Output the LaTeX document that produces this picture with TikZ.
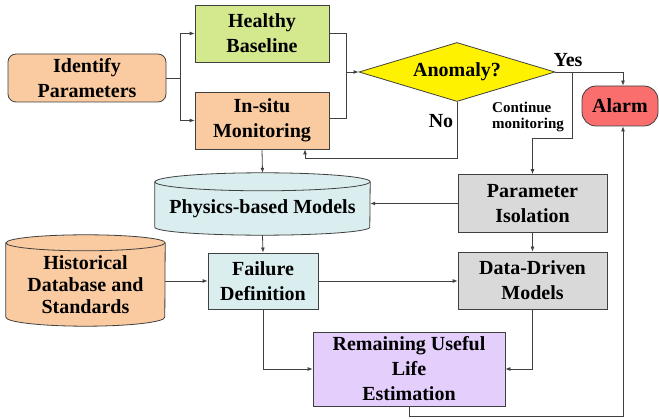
\documentclass[tikz,border=0pt]{standalone}
\usepackage{fontspec}
\setmainfont{Liberation Serif}
\usetikzlibrary{arrows.meta,positioning,shapes.geometric,backgrounds}
\definecolor{peach}{RGB}{250,202,160}
\definecolor{lightgreen}{RGB}{212,232,142}
\definecolor{alarmred}{RGB}{250,110,110}
\definecolor{paleblue}{RGB}{218,238,240}
\definecolor{lightgray}{RGB}{217,217,217}
\definecolor{lavender}{RGB}{228,206,252}

\begin{document}
\begin{tikzpicture}[x=1pt,y=-1pt,font=\bfseries\fontsize{20}{25}\selectfont,
    >={Latex[length=5pt,width=4pt]},
    box/.style={draw=black!75, line width=0.8pt, align=center, inner sep=1pt},
    drum/.style={align=center, inner sep=0pt},
    outline/.style={draw=black!75, line width=0.8pt},
    link/.style={line width=0.8pt, draw=black!75}]
            \useasboundingbox (0,0) rectangle (659,419);

            % Start
            \node[box, rounded corners=8pt, fill=peach, minimum width=158, minimum height=48] (identify) at (87,78) {Identify\\Parameters};

            % Baseline and monitoring
            \node[box, fill=lightgreen, minimum width=134, minimum height=57] (healthy) at (262,33.5) {Healthy\\Baseline};
            \node[box, fill=peach, minimum width=134, minimum height=57] (insitu) at (262,120.5) {In-situ\\Monitoring};

            % Decision
            \node[box, diamond, aspect=3.2, inner sep=0pt, fill=yellow, minimum width=196, minimum height=59] (anomaly) at (457,72) {Anomaly?};
            \node[box, rounded corners=14pt, fill=alarmred, minimum width=76, minimum height=40] (alarm) at (620,106) {Alarm};

            % Models
            \node[drum, minimum width=215, minimum height=53] (physics) at (262.5,208.5) {Physics-based Models};
            \node[box, fill=lightgray, minimum width=149, minimum height=58] (param) at (532.5,203.5) {Parameter\\Isolation};
            \node[box, fill=lightgray, minimum width=149, minimum height=57] (datadriven) at (532.5,280.5) {Data-Driven\\Models};
            \node[box, fill=paleblue, minimum width=110, minimum height=56] (failure) at (263,281) {Failure\\Definition};
            \node[drum, font=\bfseries\fontsize{20}{22}\selectfont, minimum width=159, minimum height=83] (historical) at (85.5,284.5) {Historical\\Database and\\Standards};

            % Estimation
            \node[box, inner sep=0pt, fill=lavender, minimum width=192, minimum height=74] (rul) at (409,369) {Remaining Useful\\Life\\Estimation};

            % Drum outlines
            \begin{scope}[on background layer]
                \path[outline, fill=paleblue] (physics.north west) -- ([yshift=8pt]physics.south west)
                    arc[start angle=180, end angle=360, x radius=107.5pt, y radius=8pt]
                    -- (physics.north east) arc[start angle=0, end angle=180, x radius=107.5pt, y radius=9pt] -- cycle;
                \draw[outline] (physics.north west) arc[start angle=180, end angle=360, x radius=107.5pt, y radius=9pt];
                \path[outline, fill=peach] (historical.north west) -- ([yshift=9pt]historical.south west)
                    arc[start angle=180, end angle=360, x radius=79.5pt, y radius=9pt]
                    -- (historical.north east) arc[start angle=0, end angle=180, x radius=79.5pt, y radius=8pt] -- cycle;
                \draw[outline] (historical.north west) arc[start angle=180, end angle=360, x radius=79.5pt, y radius=8pt];
            \end{scope}

            % Labels
            \node (yes) at (568,60) {Yes};
            \node (no) at (441,121) {No};
            \node[align=left, font=\bfseries\fontsize{15}{15.5}\selectfont] (continue) at (528,117) {Continue\\monitoring};

            % Arrows
            \draw[link, ->] (identify.east) -- ++(14,0) |- (healthy.west);
            \draw[link, ->] (identify.east) -- ++(14,0) |- (insitu.west);
            \draw[link] (healthy.east) -- ++(17,0) |- ([yshift=2pt]insitu.east);
            \coordinate (merge) at (346,72);
            \draw[link, ->] (merge) -- (anomaly.west);
            \draw[link, ->] (anomaly.east) -| ([xshift=3pt]alarm.north);
            \coordinate (split) at (572,72);
            \draw[link, ->] (split) -- ++(0,66) -| (param.north);
            \draw[link, ->] (anomaly.south) -- ++(0,57) -| ([xshift=43]insitu.south);
            \draw[link, ->] (insitu.south) -- ([yshift=9pt]physics.north);
            \draw[link, ->] (param.west) -- (param.west -| physics.east);
            \draw[link, ->] (param.south) -- (datadriven.north);
            \draw[link, ->] (physics.south) -- (failure.north);
            \draw[link, ->] (failure.west -| historical.east) -- (failure.west);
            \draw[link, ->] (failure.east) -- (failure.east -| datadriven.west);
            \draw[link, ->] (failure.south) |- (rul.west);
            \draw[link, ->] (datadriven.south) |- (rul.east);
            \draw[link, ->] (rul.south) -- ++(0,10) -| ([xshift=3pt]alarm.south);
        \end{tikzpicture}
\end{document}
